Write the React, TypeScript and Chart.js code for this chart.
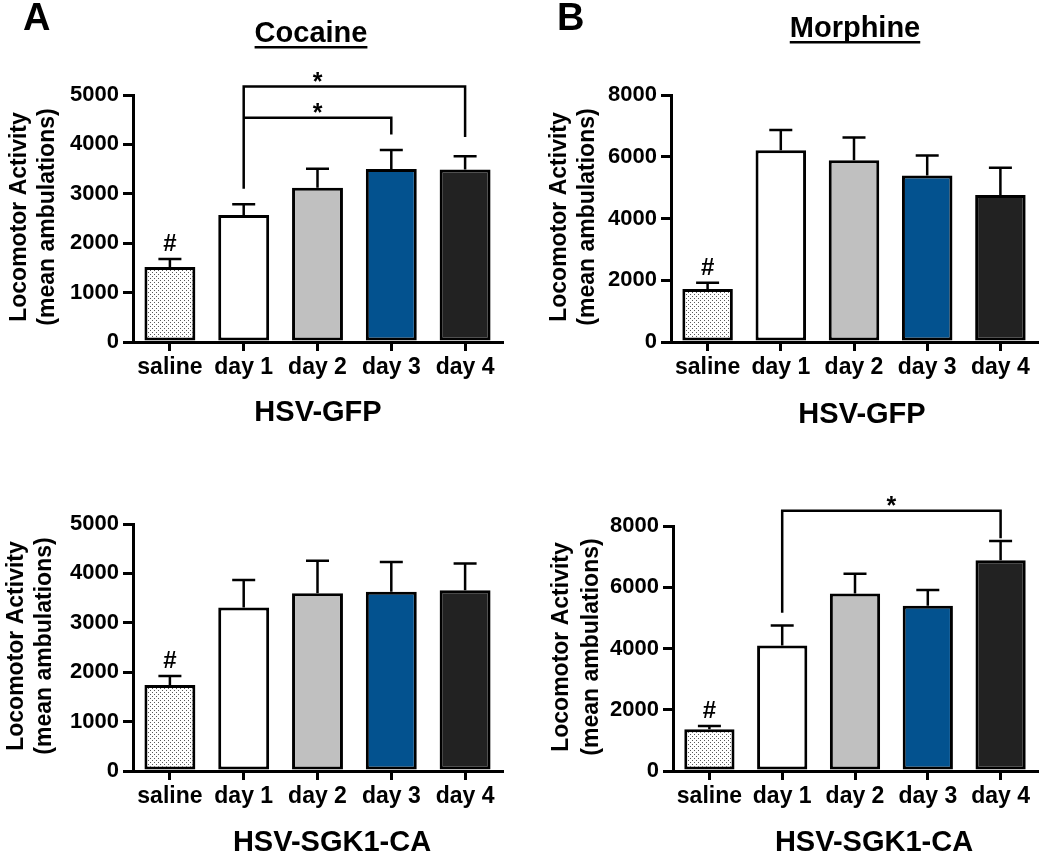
import React, { useEffect, useRef } from 'react';
import { Chart, registerables } from 'chart.js';

Chart.register(...registerables);

// ---------- data ----------
const categories = ['saline', 'day 1', 'day 2', 'day 3', 'day 4'];

const cocaineGfpMean = [1520, 2570, 3120, 3500, 3490];
const cocaineGfpSem = [160, 220, 385, 385, 270];

const morphineGfpMean = [1720, 6210, 5890, 5390, 4760];
const morphineGfpSem = [195, 655, 730, 650, 885];

const cocaineSgkMean = [1740, 3310, 3600, 3630, 3660];
const cocaineSgkSem = [185, 555, 655, 600, 540];

const morphineSgkMean = [1360, 4100, 5800, 5400, 6880];
const morphineSgkSem = [110, 650, 640, 510, 630];

const cocaineTicks = [0, 1000, 2000, 3000, 4000, 5000];
const morphineTicks = [0, 2000, 4000, 6000, 8000];

// significance brackets (category indices, values in data units)
const cocaineGfpBrackets = [
  { from: 1, to: 4, level: 5170, fromEnd: 3100, toEnd: 4150, starAt: 2, label: '*' },
  { from: 1, to: 3, level: 4540, fromEnd: 4540, toEnd: 4200, starAt: 2, label: '*' },
];
const morphineGfpBrackets: any[] = [];
const cocaineSgkBrackets: any[] = [];
const morphineSgkBrackets = [
  { from: 1, to: 4, level: 8500, fromEnd: 5170, toEnd: 7600, starAt: 2.5, label: '*' },
];

const barColors = ['PATTERN', '#ffffff', '#c0c0c0', '#03528f', '#222222'];
const yTitleLines = ['Locomotor Activity', '(mean ambulations)'];

const FONT = '"Liberation Sans", Arial, Helvetica, sans-serif';
const W = 1050;
const H = 853;

type PanelCfg = {
  mean: number[];
  sem: number[];
  ticks: number[];
  brackets: any[];
  area: { left: number; right: number; top: number; bottom: number };
  letter?: { text: string; x: number; y: number };
  title?: { text: string; cx: number; y: number };
  xTitle: { text: string; cx: number; y: number };
  yTitle: { x1: number; x2: number; cy: number };
};

const panels: PanelCfg[] = [
  {
    mean: cocaineGfpMean, sem: cocaineGfpSem, ticks: cocaineTicks, brackets: cocaineGfpBrackets,
    area: { left: 133, right: 502, top: 95, bottom: 342 },
    letter: { text: 'A', x: 23, y: 30 },
    title: { text: 'Cocaine', cx: 311, y: 42 },
    xTitle: { text: 'HSV-GFP', cx: 318, y: 421 },
    yTitle: { x1: 20, x2: 48, cy: 217 },
  },
  {
    mean: morphineGfpMean, sem: morphineGfpSem, ticks: morphineTicks, brackets: morphineGfpBrackets,
    area: { left: 671, right: 1037, top: 95, bottom: 342 },
    letter: { text: 'B', x: 557, y: 30 },
    title: { text: 'Morphine', cx: 855, y: 37 },
    xTitle: { text: 'HSV-GFP', cx: 862, y: 423 },
    yTitle: { x1: 560, x2: 588, cy: 217 },
  },
  {
    mean: cocaineSgkMean, sem: cocaineSgkSem, ticks: cocaineTicks, brackets: cocaineSgkBrackets,
    area: { left: 133, right: 502, top: 524, bottom: 771 },
    xTitle: { text: 'HSV-SGK1-CA', cx: 332, y: 851 },
    yTitle: { x1: 17, x2: 45, cy: 646 },
  },
  {
    mean: morphineSgkMean, sem: morphineSgkSem, ticks: morphineTicks, brackets: morphineSgkBrackets,
    area: { left: 673, right: 1037, top: 526, bottom: 771 },
    xTitle: { text: 'HSV-SGK1-CA', cx: 874, y: 851 },
    yTitle: { x1: 562, x2: 592, cy: 647 },
  },
];

const Y_SCALE_W = 100;
const X_SCALE_H = 60;

function makePattern(ctx: CanvasRenderingContext2D) {
  const pc = document.createElement('canvas');
  pc.width = 4;
  pc.height = 4;
  const g = pc.getContext('2d')!;
  g.fillStyle = '#ffffff';
  g.fillRect(0, 0, 4, 4);
  g.fillStyle = '#5a5a5a';
  g.fillRect(0, 0, 1, 1);
  g.fillRect(2, 2, 1, 1);
  return ctx.createPattern(pc, 'repeat');
}

function Panel({ cfg }: { cfg: PanelCfg }) {
  const ref = useRef<HTMLCanvasElement>(null);

  useEffect(() => {
    const canvas = ref.current!;
    const ctx0 = canvas.getContext('2d')!;
    const pattern = makePattern(ctx0);
    const colors = barColors.map((c) => (c === 'PATTERN' ? pattern : c));

    const annot = {
      id: 'annot',
      afterDatasetsDraw(chart: any) {
        const ctx = chart.ctx;
        const ys = chart.scales.y;
        const meta = chart.getDatasetMeta(0);
        ctx.save();
        ctx.strokeStyle = '#000';
        ctx.lineWidth = 2.5;
        ctx.lineCap = 'butt';
        meta.data.forEach((el: any, i: number) => {
          const x = el.x;
          const yTop = ys.getPixelForValue(cfg.mean[i]);
          const yErr = ys.getPixelForValue(cfg.mean[i] + cfg.sem[i]);
          ctx.beginPath();
          ctx.moveTo(x, yTop);
          ctx.lineTo(x, yErr);
          ctx.moveTo(x - 11.5, yErr);
          ctx.lineTo(x + 11.5, yErr);
          ctx.stroke();
          if (i === 0) {
            ctx.fillStyle = '#000';
            ctx.font = `bold 24px ${FONT}`;
            ctx.textAlign = 'center';
            ctx.textBaseline = 'alphabetic';
            ctx.fillText('#', x, yErr - 8);
          }
        });
        ctx.restore();
      },
      afterDraw(chart: any) {
        const ctx = chart.ctx;
        const xs = chart.scales.x;
        const ys = chart.scales.y;
        ctx.save();
        ctx.fillStyle = '#000';
        ctx.strokeStyle = '#000';
        // brackets
        cfg.brackets.forEach((b: any) => {
          const x1 = xs.getPixelForValue(b.from);
          const x2 = xs.getPixelForValue(b.to);
          const yl = ys.getPixelForValue(b.level);
          ctx.lineWidth = 2.5;
          ctx.lineJoin = 'miter';
          ctx.beginPath();
          ctx.moveTo(x1, ys.getPixelForValue(b.fromEnd));
          ctx.lineTo(x1, yl);
          ctx.lineTo(x2, yl);
          ctx.lineTo(x2, ys.getPixelForValue(b.toEnd));
          ctx.stroke();
          ctx.font = `bold 25px ${FONT}`;
          ctx.textAlign = 'center';
          ctx.textBaseline = 'alphabetic';
          ctx.fillText(b.label, xs.getPixelForValue(b.starAt), yl + 3);
        });
        // panel letter
        if (cfg.letter) {
          ctx.font = `bold 38px ${FONT}`;
          ctx.textAlign = 'left';
          ctx.textBaseline = 'alphabetic';
          ctx.fillText(cfg.letter.text, cfg.letter.x, cfg.letter.y);
        }
        // underlined title
        if (cfg.title) {
          ctx.font = `bold 29px ${FONT}`;
          ctx.textAlign = 'center';
          ctx.textBaseline = 'alphabetic';
          ctx.fillText(cfg.title.text, cfg.title.cx, cfg.title.y);
          const w = ctx.measureText(cfg.title.text).width;
          ctx.fillRect(cfg.title.cx - w / 2, cfg.title.y + 4, w, 2.5);
        }
        // x title
        ctx.font = `bold 29px ${FONT}`;
        ctx.textAlign = 'center';
        ctx.textBaseline = 'alphabetic';
        ctx.fillText(cfg.xTitle.text, cfg.xTitle.cx, cfg.xTitle.y);
        // y title (two lines, rotated)
        ctx.font = `bold 23px ${FONT}`;
        ctx.textAlign = 'center';
        ctx.textBaseline = 'middle';
        const xsPos = [cfg.yTitle.x1, cfg.yTitle.x2];
        yTitleLines.forEach((line, k) => {
          ctx.save();
          ctx.translate(xsPos[k], cfg.yTitle.cy);
          ctx.rotate(-Math.PI / 2);
          ctx.fillText(line, 0, 0);
          ctx.restore();
        });
        ctx.restore();
      },
    };

    const a = cfg.area;
    const chart = new Chart(canvas, {
      type: 'bar',
      data: {
        labels: categories,
        datasets: [
          {
            data: cfg.mean,
            backgroundColor: colors as any,
            borderColor: '#000',
            borderWidth: 3,
            borderSkipped: false,
            barPercentage: 0.69,
            categoryPercentage: 1,
          },
        ],
      },
      options: {
        responsive: false,
        animation: false,
        devicePixelRatio: 1,
        layout: {
          padding: {
            left: a.left - Y_SCALE_W,
            right: W - a.right,
            top: a.top,
            bottom: H - a.bottom - X_SCALE_H,
          },
        },
        plugins: {
          legend: { display: false },
          title: { display: false },
          tooltip: { enabled: false },
        },
        scales: {
          x: {
            offset: true,
            afterFit: (s: any) => { s.height = X_SCALE_H; },
            grid: {
              offset: false,
              drawOnChartArea: false,
              drawTicks: true,
              tickLength: 9,
              color: '#000',
              lineWidth: 3,
            },
            border: { display: true, color: '#000', width: 3 },
            ticks: {
              color: '#000',
              padding: 3,
              maxRotation: 0,
              autoSkip: false,
              font: { family: FONT, size: 23, weight: 'bold' },
            },
          },
          y: {
            min: cfg.ticks[0],
            max: cfg.ticks[cfg.ticks.length - 1],
            afterFit: (s: any) => { s.width = Y_SCALE_W; },
            afterBuildTicks: (s: any) => { s.ticks = cfg.ticks.map((v) => ({ value: v })); },
            grid: {
              drawOnChartArea: false,
              drawTicks: true,
              tickLength: 10,
              color: '#000',
              lineWidth: 3,
            },
            border: { display: true, color: '#000', width: 3 },
            ticks: {
              color: '#000',
              padding: 4,
              font: { family: FONT, size: 22, weight: 'bold' },
              callback: (v: any) => String(v),
            },
          },
        },
      },
      plugins: [annot],
    } as any);
    return () => chart.destroy();
  }, [cfg]);

  return (
    <canvas
      ref={ref}
      width={W}
      height={H}
      style={{ position: 'absolute', left: 0, top: 0, width: W, height: H }}
    />
  );
}

export default function App() {
  return (
    <div
      style={{
        position: 'absolute',
        left: 0,
        top: 0,
        width: W,
        height: H,
        background: '#ffffff',
        overflow: 'hidden',
      }}
    >
      {panels.map((p, i) => (
        <Panel key={i} cfg={p} />
      ))}
    </div>
  );
}
